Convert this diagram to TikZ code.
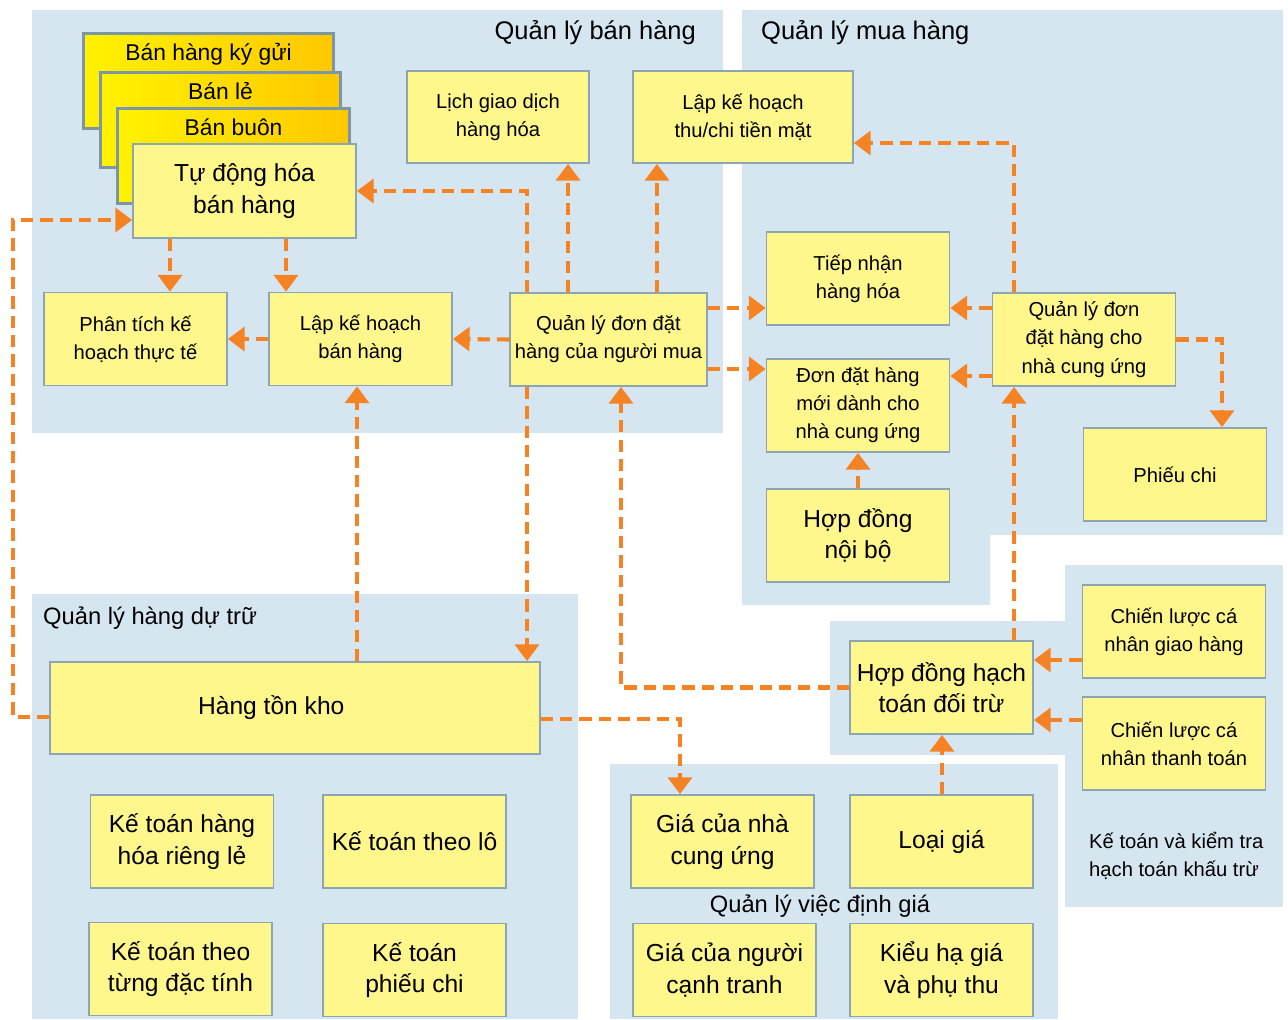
\documentclass[tikz,border=0pt]{standalone}
\usepackage{fontspec}
\setmainfont{Liberation Sans}
\usepackage{tikz}
\usetikzlibrary{arrows.meta}

\definecolor{panelbg}{RGB}{213,230,240}
\definecolor{boxfill}{RGB}{255,246,140}
\definecolor{boxline}{RGB}{140,165,178}
\definecolor{stackline}{RGB}{125,150,165}
\definecolor{stackl}{RGB}{255,242,0}
\definecolor{stackr}{RGB}{255,200,0}
\definecolor{flowc}{RGB}{245,130,35}

\begin{document}
\begin{tikzpicture}[x=0.02cm, y=-0.02cm,
    panel/.style={fill=panelbg},
    box/.style={draw=boxline, fill=boxfill, line width=1pt, align=center, inner sep=1pt,
        minimum width=3.66cm, minimum height=1.86cm, font=\fontsize{11.5}{16}\selectfont},
    bigbox/.style={box, font=\fontsize{14}{18}\selectfont},
    stackbox/.style={draw=stackline, line width=1.8pt, left color=stackl, right color=stackr,
        anchor=north west, minimum height=1.9cm, inner sep=0pt},
    stacktext/.style={anchor=north, yshift=-3pt, font=\fontsize{13}{16}\selectfont},
    grouptitle/.style={font=\fontsize{14.5}{18}\selectfont},
    flow/.style={draw=flowc, line width=2.3pt, dash pattern=on 7pt off 4pt,
        -{Triangle[width=13.5pt,length=9.5pt]}}]

    \useasboundingbox (0,0) rectangle (1288,1019);

    \fill[panel] (32,10) rectangle (723,433);
    \fill[panel] (742,10) -- (1283,10) -- (1283,535) -- (990,535) -- (990,605) -- (742,605) -- cycle;
    \fill[panel] (32,594) rectangle (578,1019);
    \fill[panel] (610,764) rectangle (1058,1019);
    \fill[panel] (830,621) rectangle (1067,755);
    \fill[panel] (1065,565) rectangle (1283,907);

    \node[grouptitle, anchor=east] (tbanhang) at (702,33) {Quản lý bán hàng};
    \node[grouptitle, anchor=west] (tmuahang) at (755,33) {Quản lý mua hàng};
    \node[grouptitle, anchor=west, font=\fontsize{13.5}{16}\selectfont] (tdutru) at (37,618) {Quản lý hàng dự trữ};
    \node[grouptitle, font=\fontsize{13.5}{16}\selectfont] (tdinhgia) at (820,906) {Quản lý việc định giá};
    \node[align=left, anchor=west, font=\fontsize{11.5}{16}\selectfont] (tketoan) at (1083,856) {Kế toán và kiểm tra\\hạch toán khấu trừ};

    \node[stackbox, minimum width=5cm, label={[stacktext]north:Bán hàng ký gửi}] (kygui) at (82,32) {};
    \node[stackbox, minimum width=4.8cm, label={[stacktext]north:Bán lẻ}] (banle) at (99,71) {};
    \node[stackbox, minimum width=4.64cm, label={[stacktext]north:Bán buôn}] (banbuon) at (116,107) {};
    \node[bigbox, minimum width=4.46cm, minimum height=1.88cm] (tudong) at (244.5,191) {Tự động hóa\\bán hàng};

    \node[box, minimum width=3.64cm, minimum height=1.84cm] (lichgd) at (498,117) {Lịch giao dịch\\hàng hóa};
    \node[box, minimum width=4.4cm, minimum height=1.84cm] (thuchi) at (743,117) {Lập kế hoạch\\thu/chi tiền mặt};
    \node[box] (phantich) at (135.5,339) {Phân tích kế\\hoạch thực tế};
    \node[box] (lapkhbh) at (360.5,339) {Lập kế hoạch\\bán hàng};
    \node[box, minimum width=3.94cm] (qlmua) at (608.5,339.5) {Quản lý đơn đặt\\hàng của người mua};
    \node[box] (tiepnhan) at (858,278.5) {Tiếp nhận\\hàng hóa};
    \node[box] (dondh) at (858,405.5) {Đơn đặt hàng\\mới dành cho\\nhà cung ứng};
    \node[box] (qlncc) at (1084,339.5) {Quản lý đơn\\đặt hàng cho\\nhà cung ứng};
    \node[box] (phieuchi) at (1175,474.5) {Phiếu chi};
    \node[bigbox] (hdnb) at (858,535.5) {Hợp đồng\\nội bộ};

    \node[bigbox, minimum width=9.8cm, minimum height=1.84cm] (tonkho) at (295,708) {Hàng tồn kho\hspace*{0.95cm}};
    \node[bigbox] (ktrieng) at (182,841.5) {Kế toán hàng\\hóa riêng lẻ};
    \node[bigbox] (ktlo) at (414.5,841.5) {Kế toán theo lô};
    \node[bigbox] (ktdactinh) at (180.5,969) {Kế toán theo\\từng đặc tính};
    \node[bigbox] (ktphieuchi) at (414.5,970) {Kế toán\\phiếu chi};

    \node[bigbox] (hdht) at (941.5,687.5) {Hợp đồng hạch\\toán đối trừ};
    \node[box] (clgiao) at (1174,631.5) {Chiến lược cá\\nhân giao hàng};
    \node[box] (cltt) at (1174,743.5) {Chiến lược cá\\nhân thanh toán};
    \node[bigbox] (gianc) at (722.5,841.5) {Giá của nhà\\cung ứng};
    \node[bigbox] (loaigia) at (941.5,841.5) {Loại giá};
    \node[bigbox] (giactranh) at (724.5,970) {Giá của người\\cạnh tranh};
    \node[bigbox] (kieuhg) at (941.5,970) {Kiểu hạ giá\\và phụ thu};

    \draw[flow] (527,0 |- qlmua.north) |- (tudong.east);
    \draw[flow] (568,0 |- qlmua.north) -- (568,0 |- lichgd.south);
    \draw[flow] (657,0 |- qlmua.north) -- (657,0 |- thuchi.south);
    \draw[flow] (qlmua.west) -- (lapkhbh.east);
    \draw[flow] (lapkhbh.west) -- (phantich.east);
    \draw[flow] (170,0 |- tudong.south) -- (170,0 |- phantich.north);
    \draw[flow] (286,0 |- tudong.south) -- (286,0 |- lapkhbh.north);
    \draw[flow] (tonkho.west |- 0,717) -| (13,220) -- (tudong.west |- 0,220);
    \draw[flow] (357,0 |- tonkho.north) -- (357,0 |- lapkhbh.south);
    \draw[flow] (527,0 |- qlmua.south) -- (527,0 |- tonkho.north);
    \draw[flow] (tonkho.east |- 0,719) -| (680,0 |- gianc.north);
    \draw[flow] (hdht.west) -| (621,0 |- qlmua.south);
    \draw[flow] (qlmua.east |- 0,308) -- (tiepnhan.west |- 0,308);
    \draw[flow] (qlmua.east |- 0,369) -- (dondh.west |- 0,369);
    \draw[flow] (qlncc.west |- 0,308) -- (tiepnhan.east |- 0,308);
    \draw[flow] (qlncc.west |- 0,376) -- (dondh.east |- 0,376);
    \draw[flow] (1014,0 |- qlncc.north) |- (thuchi.east |- 0,143);
    \draw[flow] (qlncc.east) -| (1222,0 |- phieuchi.north);
    \draw[flow] (hdnb.north) -- (dondh.south);
    \draw[flow] (1014,0 |- hdht.north) -- (1014,0 |- qlncc.south);
    \draw[flow] (clgiao.west |- 0,660) -- (hdht.east |- 0,660);
    \draw[flow] (cltt.west |- 0,720) -- (hdht.east |- 0,720);
    \draw[flow] (942,0 |- loaigia.north) -- (942,0 |- hdht.south);
\end{tikzpicture}
\end{document}
